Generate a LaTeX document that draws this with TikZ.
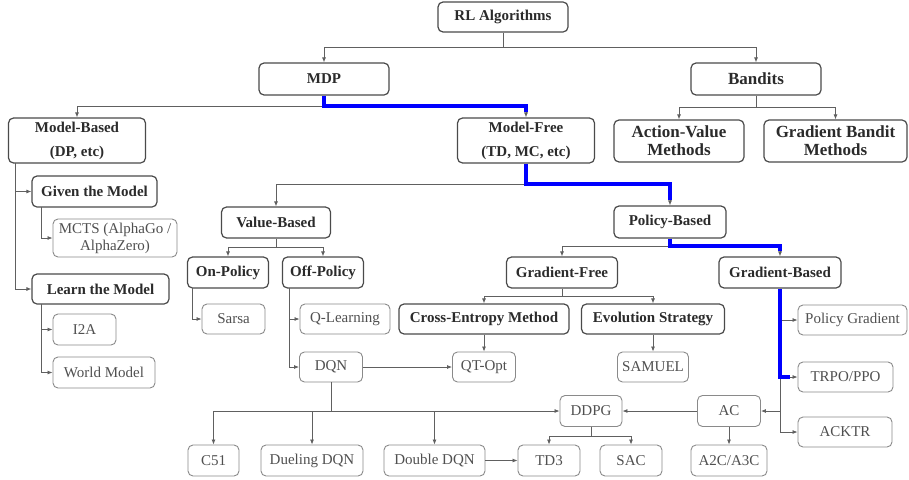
\documentclass[tikz,border=0pt]{standalone}
\usepackage{fontspec}
\setmainfont{Liberation Serif}
\usetikzlibrary{arrows.meta}
\definecolor{btext}{HTML}{2B2B2B}
\definecolor{bcol}{HTML}{4A4A4A}
\definecolor{ltext}{HTML}{505050}
\definecolor{lcol}{HTML}{8A8A8A}
\definecolor{ccol}{HTML}{606060}
\definecolor{hblue}{HTML}{0000FF}
\tikzset{
  bnode/.style={draw=bcol, line width=1.2pt, rounded corners=5pt, text=btext,
    font=\bfseries\fontsize{15}{17}\selectfont, align=center, inner sep=0pt},
  bbig/.style={bnode, font=\bfseries\fontsize{17}{18}\selectfont},
  lnode/.style={draw=lcol, line width=0.9pt, rounded corners=5pt, text=ltext,
    font=\fontsize{15}{17}\selectfont, align=center, inner sep=0pt},
  conn/.style={draw=ccol, line width=0.8pt},
  arr/.style={conn, -{Latex[length=5pt,width=4pt]}},
  bluepath/.style={draw=hblue, line width=3.5pt},
}
\begin{document}
\begin{tikzpicture}[x=1pt,y=-1pt]
\useasboundingbox (0,0) rectangle (909,479);
\fill[white] (0,0) rectangle (909,479);

% bold nodes
\node[bnode, minimum width=130pt, minimum height=30pt] (rl) at (503,17) {RL Algorithms};
\node[bnode, minimum width=130pt, minimum height=32pt] (mdp) at (324,79) {MDP};
\node[bbig, minimum width=130pt, minimum height=32pt] (bandits) at (756,79) {Bandits};
\node[bnode, minimum width=137pt, minimum height=45pt, font=\bfseries\fontsize{15}{24}\selectfont] (mb) at (77,140.5) {Model-Based\\(DP, etc)};
\node[bnode, minimum width=137pt, minimum height=45pt, font=\bfseries\fontsize{15}{24}\selectfont] (mf) at (526,140.5) {Model-Free\\(TD, MC, etc)};
\node[bbig, minimum width=130pt, minimum height=42pt] (av) at (679,141) {Action-Value\\Methods};
\node[bbig, minimum width=143pt, minimum height=42pt] (gb) at (835.5,141) {Gradient Bandit\\Methods};
\node[bnode, minimum width=125pt, minimum height=31pt] (given) at (94.5,191.5) {Given the Model};
\node[bnode, minimum width=137pt, minimum height=30pt] (learn) at (100.5,289) {Learn the Model};
\node[bnode, minimum width=109pt, minimum height=31pt] (vb) at (276,222.5) {Value-Based};
\node[bnode, minimum width=112pt, minimum height=32pt] (pb) at (670,222) {Policy-Based};
\node[bnode, minimum width=81pt, minimum height=31pt] (onp) at (228,272.5) {On-Policy};
\node[bnode, minimum width=81pt, minimum height=31pt] (offp) at (323,272.5) {Off-Policy};
\node[bnode, minimum width=111pt, minimum height=31pt] (gf) at (562,272.5) {Gradient-Free};
\node[bnode, minimum width=122pt, minimum height=31pt] (gbased) at (780,272.5) {Gradient-Based};
\node[bnode, minimum width=170pt, minimum height=30pt] (cem) at (484,319) {Cross-Entropy Method};
\node[bnode, minimum width=143pt, minimum height=30pt] (es) at (653,319) {Evolution Strategy};

% light nodes
\node[lnode, minimum width=124pt, minimum height=38pt] (mcts) at (115,238) {MCTS (AlphaGo /\\AlphaZero)};
\node[lnode, minimum width=63pt, minimum height=31pt] (i2a) at (84.5,329.5) {I2A};
\node[lnode, minimum width=102pt, minimum height=31pt] (wm) at (104,372.5) {World Model};
\node[lnode, minimum width=63pt, minimum height=30pt] (sarsa) at (233.5,319) {Sarsa};
\node[lnode, minimum width=90pt, minimum height=30pt] (ql) at (345,319) {Q-Learning};
\node[lnode, minimum width=63pt, minimum height=30pt] (dqn) at (331,367) {DQN};
\node[lnode, minimum width=63pt, minimum height=30pt] (qt) at (484,367) {QT-Opt};
\node[lnode, minimum width=71pt, minimum height=30pt] (samuel) at (653,367) {SAMUEL};
\node[lnode, minimum width=109pt, minimum height=30pt] (pg) at (852.5,320) {Policy Gradient};
\node[lnode, minimum width=95pt, minimum height=30pt] (trpo) at (845.5,377) {TRPO/PPO};
\node[lnode, minimum width=94pt, minimum height=30pt] (acktr) at (845,432) {ACKTR};
\node[lnode, minimum width=63pt, minimum height=31pt] (ac) at (729,411) {AC};
\node[lnode, minimum width=62pt, minimum height=31pt] (ddpg) at (591,411) {DDPG};
\node[lnode, minimum width=76pt, minimum height=31pt] (a2c) at (729,460.5) {A2C/A3C};
\node[lnode, minimum width=62pt, minimum height=31pt] (td3) at (549,460.5) {TD3};
\node[lnode, minimum width=62pt, minimum height=31pt] (sac) at (631,460.5) {SAC};
\node[lnode, minimum width=101pt, minimum height=31pt] (ddqn) at (434.5,460.5) {Double DQN};
\node[lnode, minimum width=51pt, minimum height=31pt] (c51) at (213.5,460.5) {C51};
\node[lnode, minimum width=102pt, minimum height=31pt] (duel) at (312,460.5) {Dueling DQN};

% junction coordinates
\coordinate (jrl) at (503,47);
\coordinate (jmdp) at (324,106);
\coordinate (jban) at (756,107);
\coordinate (mbs) at (15,163);
\coordinate (gs) at (41,207);
\coordinate (ls) at (41,304);
\coordinate (jmf) at (526,184);
\coordinate (jvb) at (276,247);
\coordinate (os) at (192,288);
\coordinate (fs) at (289,288);
\coordinate (jpb) at (670,246);
\coordinate (jgf) at (562,296);
\coordinate (jdqn) at (331,411);
\coordinate (jdd) at (591,436);
\coordinate (bt) at (790,377);

% connectors
\draw[arr] (rl.south) -- (jrl) -| (mdp.north);
\draw[arr] (jrl) -| (bandits.north);
\draw[arr] (mdp.south) -- (jmdp) -| (mb.north);
\draw[arr] (jmdp) -| (mf.north);
\draw[arr] (bandits.south) -- (jban) -| (av.north);
\draw[arr] (jban) -| (gb.north);
\draw[arr] (mbs) |- (given.west);
\draw[arr] (mbs) |- (learn.west);
\draw[arr] (gs) |- (mcts.west);
\draw[arr] (ls) |- (i2a.west);
\draw[arr] (ls) |- (wm.west);
\draw[arr] (mf.south) -- (jmf) -| (vb.north);
\draw[arr] (jmf) -| (pb.north);
\draw[arr] (vb.south) -- (jvb) -| (onp.north);
\draw[arr] (jvb) -| (offp.north);
\draw[arr] (os) |- (sarsa.west);
\draw[arr] (fs) |- (ql.west);
\draw[arr] (fs) |- (dqn.west);
\draw[arr] (pb.south) -- (jpb) -| (gf.north);
\draw[arr] (jpb) -| (gbased.north);
\draw[arr] (gf.south) -- (jgf) -| (cem.north);
\draw[arr] (jgf) -| (es.north);
\draw[arr] (cem.south) -- (qt.north);
\draw[arr] (es.south) -- (samuel.north);
\draw[arr] (dqn.east) -- (qt.west);
\draw[conn] (dqn.south) -- (jdqn);
\draw[arr] (jdqn) -| (c51.north);
\draw[arr] (jdqn) -| (duel.north);
\draw[arr] (jdqn) -| (ddqn.north);
\draw[arr] (jdqn) -- (ddpg.west);
\draw[arr] (ddqn.east) -- (td3.west);
\draw[arr] (gbased.south) |- (pg.west);
\draw[arr] (gbased.south) |- (trpo.west);
\draw[arr] (gbased.south) |- (acktr.west);
\draw[arr] (gbased.south) |- (ac.east);
\draw[arr] (ac.west) -- (ddpg.east);
\draw[arr] (ac.south) -- (a2c.north);
\draw[conn] (ddpg.south) -- (jdd);
\draw[arr] (jdd) -| (td3.north);
\draw[arr] (jdd) -| (sac.north);

% highlighted path
\draw[bluepath, shorten >=5pt] (mdp.south) -- (jmdp) -| (mf.north);
\draw[bluepath, shorten >=5pt] (mf.south) -- (jmf) -| (pb.north);
\draw[bluepath, shorten >=5pt] (pb.south) -- (jpb) -| (gbased.north);
\draw[bluepath] (gbased.south) |- (bt);
\end{tikzpicture}
\end{document}
